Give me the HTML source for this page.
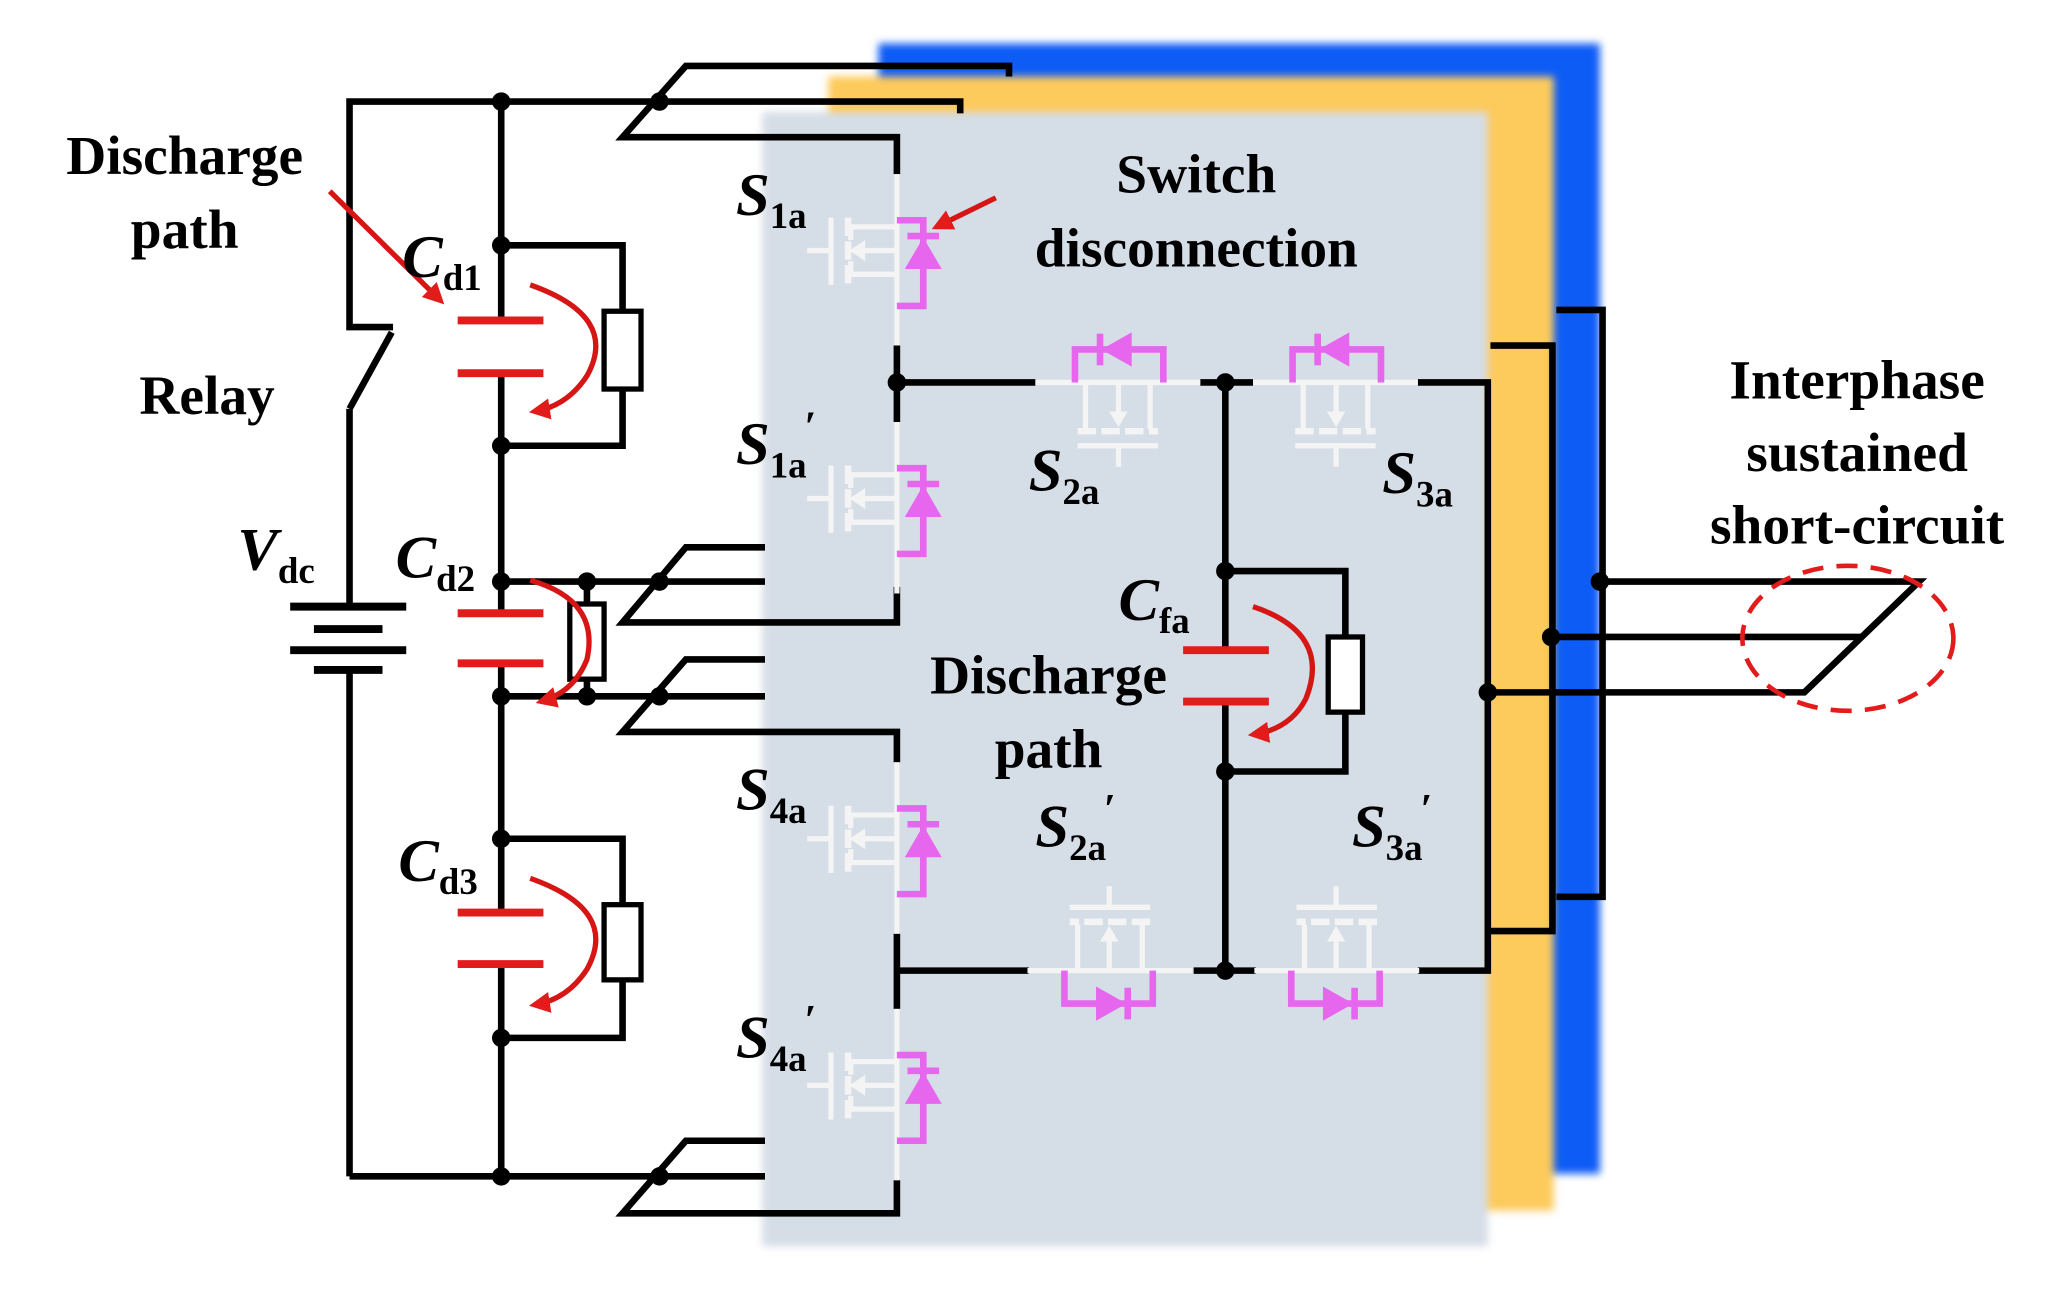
<!DOCTYPE html>
<html><head><meta charset="utf-8"><style>
html,body{margin:0;padding:0;background:#fff;}
svg{display:block;}
text{font-family:"Liberation Serif",serif;font-weight:bold;fill:#000;}
</style></head><body>
<svg width="2051" height="1299" viewBox="0 0 1555 985" preserveAspectRatio="none" xmlns="http://www.w3.org/2000/svg">
<defs>
<filter id="bl" x="-5%" y="-5%" width="110%" height="110%"><feGaussianBlur stdDeviation="3"/></filter>
<g id="mv">
 <line x1="0" y1="0" x2="0" y2="130" stroke="#f4f4f4" stroke-width="4"/>
 <polyline points="0,40 -35,40 -35,50" fill="none" stroke="#f4f4f4" stroke-width="4"/>
 <polyline points="0,76 -35,76 -35,66" fill="none" stroke="#f4f4f4" stroke-width="4"/>
 <line x1="0" y1="58" x2="-30" y2="58" stroke="#f4f4f4" stroke-width="4"/>
 <polygon points="-36,58 -24,50 -24,66" fill="#f4f4f4"/>
 <line x1="-37" y1="33" x2="-37" y2="84" stroke="#f4f4f4" stroke-width="5" stroke-dasharray="14,4"/>
 <line x1="-50" y1="33" x2="-50" y2="84" stroke="#f4f4f4" stroke-width="4"/>
 <line x1="-50" y1="58" x2="-68" y2="58" stroke="#f4f4f4" stroke-width="4"/>
 <polyline points="0,35 20,35 20,100 0,100" fill="none" stroke="#e666ee" stroke-width="5"/>
 <line x1="8" y1="47" x2="32" y2="47" stroke="#e666ee" stroke-width="5"/>
 <polygon points="20,48 6,72 34,72" fill="#e666ee"/>
</g>
<g id="mh">
 <line x1="0" y1="0" x2="125" y2="0" stroke="#f4f4f4" stroke-width="4"/>
 <polyline points="30,0 30,-25 97,-25 97,0" fill="none" stroke="#e666ee" stroke-width="5"/>
 <line x1="49" y1="-37" x2="49" y2="-13" stroke="#e666ee" stroke-width="5"/>
 <polygon points="50,-25 73,-38 73,-12" fill="#e666ee"/>
 <polyline points="38,0 38,35" fill="none" stroke="#f4f4f4" stroke-width="4"/>
 <polyline points="87,0 87,35" fill="none" stroke="#f4f4f4" stroke-width="4"/>
 <line x1="63" y1="0" x2="63" y2="28" stroke="#f4f4f4" stroke-width="4"/>
 <polygon points="63,34 56,22 70,22" fill="#f4f4f4"/>
 <line x1="32" y1="37" x2="93" y2="37" stroke="#f4f4f4" stroke-width="5" stroke-dasharray="14,4"/>
 <line x1="32" y1="48" x2="93" y2="48" stroke="#f4f4f4" stroke-width="4"/>
 <line x1="63" y1="48" x2="63" y2="64" stroke="#f4f4f4" stroke-width="4"/>
</g>
<marker id="ar" markerWidth="4" markerHeight="4" refX="3" refY="2" orient="auto" markerUnits="strokeWidth"><path d="M0,0 L4,2 L0,4 z" fill="#e21b1b"/></marker>
</defs>

<rect x="666" y="33" width="547" height="857" fill="#0a5cf5" filter="url(#bl)"/>
<rect x="628" y="58" width="550" height="860" fill="#fdca5c" filter="url(#bl)"/>
<rect x="578" y="85" width="550" height="860" fill="#d5dde6" filter="url(#bl)"/>

<g fill="none" stroke="#000" stroke-width="5" stroke-linejoin="miter">
 <polyline points="380,77 265,77 265,248 298,248"/>
 <line x1="265" y1="310" x2="297" y2="252"/>
 <line x1="265" y1="310" x2="265" y2="460"/>
 <line x1="265" y1="508" x2="265" y2="892"/>
 <line x1="220" y1="460" x2="308" y2="460" stroke-width="6"/>
 <line x1="238" y1="477" x2="290" y2="477" stroke-width="6"/>
 <line x1="220" y1="493" x2="308" y2="493" stroke-width="6"/>
 <line x1="238" y1="508" x2="290" y2="508" stroke-width="6"/>
 <line x1="380" y1="77" x2="380" y2="243"/>
 <line x1="380" y1="283" x2="380" y2="465"/>
 <line x1="380" y1="503" x2="380" y2="692"/>
 <line x1="380" y1="731" x2="380" y2="892"/>
 <polyline points="380,77 728,77 728,86"/>
 <polyline points="765,58 765,50 520,50 472,104 680,104 680,132"/>
 <polyline points="380,186 472,186 472,338 380,338"/>
 <polyline points="380,441 580,441"/>
 <polyline points="380,528 580,528"/>
 <line x1="445" y1="441" x2="445" y2="528"/>
 <polyline points="380,636 472,636 472,787 380,787"/>
 <polyline points="580,415 520,415 472,472 680,472 680,445"/>
 <polyline points="580,500 520,500 472,555 680,555 680,578"/>
 <polyline points="265,892 580,892"/>
 <polyline points="580,865 520,865 472,920 680,920 680,895"/>
 <line x1="680" y1="262" x2="680" y2="320"/>
 <line x1="680" y1="708" x2="680" y2="765"/>
 <line x1="680" y1="290" x2="785" y2="290"/>
 <line x1="680" y1="736" x2="780" y2="736"/>
 <line x1="910" y1="290" x2="950" y2="290"/>
 <line x1="905" y1="736" x2="952" y2="736"/>
 <polyline points="1075,290 1128,290 1128,736 1075,736"/>
 <line x1="929" y1="290" x2="929" y2="493"/>
 <line x1="929" y1="532" x2="929" y2="736"/>
 <polyline points="929,433 1020,433 1020,585 929,585"/>
 <polyline points="1130,262 1177,262 1177,706 1130,706"/>
 <polyline points="1180,235 1215,235 1215,680 1180,680"/>
 <polyline points="1213,441 1455,441 1368,525 1128,525"/>
 <polyline points="1176,483 1412,483"/>
</g>
<g fill="#fff" stroke="#000" stroke-width="4">
 <rect x="458" y="236" width="28" height="59"/>
 <rect x="432" y="458" width="26" height="57"/>
 <rect x="458" y="686" width="28" height="57"/>
 <rect x="1007" y="483" width="26" height="57"/>
</g>
<g fill="#000">
 <circle cx="380" cy="77" r="7"/><circle cx="380" cy="186" r="7"/><circle cx="380" cy="338" r="7"/>
 <circle cx="380" cy="441" r="7"/><circle cx="380" cy="528" r="7"/><circle cx="380" cy="636" r="7"/>
 <circle cx="380" cy="787" r="7"/><circle cx="380" cy="892" r="7"/>
 <circle cx="500" cy="77" r="7"/><circle cx="500" cy="441" r="7"/><circle cx="500" cy="528" r="7"/><circle cx="500" cy="892" r="7"/>
 <circle cx="445" cy="441" r="7"/><circle cx="445" cy="528" r="7"/>
 <circle cx="680" cy="290" r="7"/><circle cx="929" cy="290" r="7"/><circle cx="929" cy="736" r="7"/>
 <circle cx="929" cy="433" r="7"/><circle cx="929" cy="585" r="7"/>
 <circle cx="1213" cy="441" r="7"/><circle cx="1176" cy="483" r="7"/><circle cx="1128" cy="525" r="7"/>
</g>
<g stroke="#e21b1b" stroke-width="6">
 <line x1="347" y1="243" x2="412" y2="243"/><line x1="347" y1="283" x2="412" y2="283"/>
 <line x1="347" y1="465" x2="412" y2="465"/><line x1="347" y1="503" x2="412" y2="503"/>
 <line x1="347" y1="692" x2="412" y2="692"/><line x1="347" y1="731" x2="412" y2="731"/>
 <line x1="897" y1="493" x2="962" y2="493"/><line x1="897" y1="532" x2="962" y2="532"/>
</g>
<g fill="none" stroke="#d61515" stroke-width="4" marker-end="url(#ar)">
 <path d="M402,216 Q470,240 445,285 Q430,308 405,312"/>
 <path d="M402,440 Q455,455 445,500 Q435,525 410,532"/>
 <path d="M402,666 Q470,690 445,735 Q430,758 405,762"/>
 <path d="M950,460 Q1010,480 990,530 Q978,553 950,557"/>
 <line x1="250" y1="145" x2="334" y2="228"/>
 <line x1="755" y1="150" x2="710" y2="172"/>
</g>
<use href="#mv" x="680" y="132"/>
<use href="#mv" x="680" y="320"/>
<use href="#mv" x="680" y="578"/>
<use href="#mv" x="680" y="765"/>
<use href="#mh" x="785" y="290"/>
<use href="#mh" x="950" y="290"/>
<use href="#mh" transform="rotate(180 842 736)" x="780" y="736"/>
<use href="#mh" transform="rotate(180 1014 736)" x="952" y="736"/>
<ellipse cx="1401" cy="484" rx="80" ry="55" fill="none" stroke="#e21b1b" stroke-width="3.5" stroke-dasharray="16,10"/>

<g font-size="42" text-anchor="middle">
 <text x="140" y="132">Discharge</text>
 <text x="140" y="188">path</text>
 <text x="157" y="314">Relay</text>
 <text x="907" y="146">Switch</text>
 <text x="907" y="202">disconnection</text>
 <text x="795" y="526">Discharge</text>
 <text x="795" y="582">path</text>
 <text x="1408" y="302">Interphase</text>
 <text x="1408" y="357">sustained</text>
 <text x="1408" y="412">short-circuit</text>
</g>
<g font-size="46" font-style="italic">
 <text x="180" y="432">V<tspan font-size="28" font-style="normal" dy="10">dc</tspan></text>
 <text x="305" y="210">C<tspan font-size="28" font-style="normal" dy="10">d1</tspan></text>
 <text x="300" y="438">C<tspan font-size="28" font-style="normal" dy="10">d2</tspan></text>
 <text x="302" y="668">C<tspan font-size="28" font-style="normal" dy="10">d3</tspan></text>
 <text x="848" y="470">C<tspan font-size="28" font-style="normal" dy="10">fa</tspan></text>
 <text x="558" y="163">S<tspan font-size="28" font-style="normal" dy="10">1a</tspan></text>
 <text x="558" y="352">S<tspan font-size="28" font-style="normal" dy="10">1a</tspan><tspan dx="-2" dy="-28" font-size="32">′</tspan></text>
 <text x="558" y="614">S<tspan font-size="28" font-style="normal" dy="10">4a</tspan></text>
 <text x="558" y="802">S<tspan font-size="28" font-style="normal" dy="10">4a</tspan><tspan dx="-2" dy="-28" font-size="32">′</tspan></text>
 <text x="780" y="372">S<tspan font-size="28" font-style="normal" dy="10">2a</tspan></text>
 <text x="1048" y="374">S<tspan font-size="28" font-style="normal" dy="10">3a</tspan></text>
 <text x="785" y="642">S<tspan font-size="28" font-style="normal" dy="10">2a</tspan><tspan dx="-2" dy="-28" font-size="32">′</tspan></text>
 <text x="1025" y="642">S<tspan font-size="28" font-style="normal" dy="10">3a</tspan><tspan dx="-2" dy="-28" font-size="32">′</tspan></text>
</g>
</svg>
</body></html>
